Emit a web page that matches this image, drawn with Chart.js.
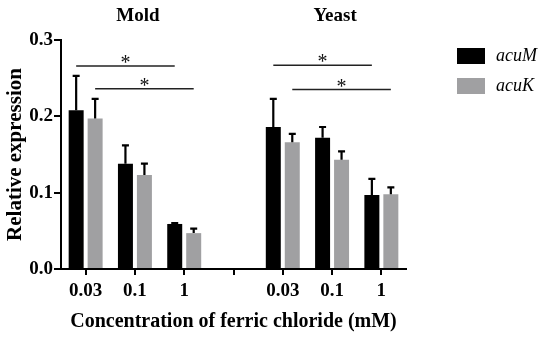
<!DOCTYPE html>
<html>
<head>
<meta charset="utf-8">
<script src="https://cdn.jsdelivr.net/npm/chart.js@4.4.1/dist/chart.umd.min.js"></script>
<style>
  html, body { margin: 0; padding: 0; background: #fff; }
  #wrap { width: 550px; height: 337px; }
</style>
</head>
<body>
<div id="wrap"><canvas id="chart"></canvas></div>
<script>
// data
const categories = ['0.03', '0.1', '1', '', '0.03', '0.1', '1'];
const acuM = [0.208, 0.138, 0.059, null, 0.186, 0.172, 0.097];
const acuK = [0.197, 0.123, 0.047, null, 0.166, 0.143, 0.098];
const acuMErr = [0.045, 0.024, 0.001, null, 0.037, 0.014, 0.021];
const acuKErr = [0.026, 0.015, 0.006, null, 0.011, 0.011, 0.009];
const yTicks = [0, 0.1, 0.2, 0.3];
const groupNames = ['Mold', 'Yeast'];
const groupCenters = [1, 5]; // category index under each group title
// significance bars: from / to category, series, height
const sigFrom = [0, 0, 4, 4];
const sigTo = [2, 2, 6, 6];
const sigSeries = [0, 1, 0, 1];
const sigY = [0.266, 0.236, 0.267, 0.235];

const serif = '"Liberation Serif", "Times New Roman", serif';
const errors = [acuMErr, acuKErr];

const errorBars = {
  id: 'errorBars',
  afterDatasetsDraw(chart) {
    const ctx = chart.ctx;
    const y = chart.scales.y;
    ctx.save();
    ctx.strokeStyle = '#000';
    ctx.lineWidth = 2.2;
    chart.data.datasets.forEach((ds, d) => {
      const meta = chart.getDatasetMeta(d);
      meta.data.forEach((bar, i) => {
        const v = ds.data[i];
        if (v == null || errors[d][i] == null) return;
        const top = y.getPixelForValue(v + errors[d][i]);
        ctx.beginPath();
        ctx.moveTo(bar.x, bar.y);
        ctx.lineTo(bar.x, top);
        ctx.moveTo(bar.x - 3.5, top);
        ctx.lineTo(bar.x + 3.5, top);
        ctx.stroke();
      });
    });
    ctx.restore();
  }
};

const extras = {
  id: 'extras',
  afterDraw(chart) {
    const ctx = chart.ctx;
    const x = chart.scales.x;
    const y = chart.scales.y;
    ctx.save();

    // significance lines with asterisks
    ctx.strokeStyle = '#222';
    ctx.lineWidth = 1.5;
    ctx.fillStyle = '#111';
    ctx.font = '20px ' + serif;
    ctx.textAlign = 'center';
    ctx.textBaseline = 'alphabetic';
    for (let k = 0; k < sigY.length; k++) {
      const meta = chart.getDatasetMeta(sigSeries[k]);
      const x1 = meta.data[sigFrom[k]].x;
      const x2 = meta.data[sigTo[k]].x;
      const py = y.getPixelForValue(sigY[k]);
      ctx.beginPath();
      ctx.moveTo(x1, py);
      ctx.lineTo(x2, py);
      ctx.stroke();
      ctx.fillText('*', (x1 + x2) / 2, py + 3);
    }

    // group titles
    ctx.fillStyle = '#000';
    ctx.font = 'bold 19px ' + serif;
    ctx.textBaseline = 'middle';
    groupNames.forEach((name, g) => {
      ctx.fillText(name, x.getPixelForValue(groupCenters[g]) + 3, 16);
    });

    // legend
    ctx.textAlign = 'left';
    ctx.font = 'italic 18px ' + serif;
    chart.data.datasets.forEach((ds, d) => {
      const top = 48 + d * 30;
      ctx.fillStyle = ds.backgroundColor;
      ctx.fillRect(457, top, 28, 16);
      ctx.fillStyle = '#000';
      ctx.fillText(ds.label, 496, top + 8);
    });
    ctx.restore();
  }
};

new Chart(document.getElementById('chart'), {
  type: 'bar',
  data: {
    labels: categories,
    datasets: [
      { label: 'acuM', data: acuM, backgroundColor: '#000000' },
      { label: 'acuK', data: acuK, backgroundColor: '#a0a0a2' }
    ]
  },
  options: {
    responsive: true,
    maintainAspectRatio: false,
    animation: false,
    categoryPercentage: 0.77,
    barPercentage: 0.79,
    layout: { padding: { left: 0, right: 144, top: 40, bottom: 0 } },
    plugins: {
      legend: { display: false },
      tooltip: { enabled: false }
    },
    scales: {
      x: {
        afterFit: s => { s.height = 68; },
        grid: {
          offset: false,
          drawOnChartArea: false,
          drawTicks: true,
          tickLength: 6,
          color: '#000',
          lineWidth: 2
        },
        border: { color: '#000', width: 2 },
        ticks: {
          color: '#000',
          padding: 5,
          font: { family: serif, size: 19, weight: 'bold' }
        },
        title: {
          display: true,
          text: 'Concentration of ferric chloride (mM)',
          color: '#000',
          font: { family: serif, size: 20, weight: 'bold' },
          padding: { top: 0, bottom: 3 }
        }
      },
      y: {
        min: 0,
        max: 0.3,
        afterFit: s => { s.width = 61; },
        afterBuildTicks: s => { s.ticks = yTicks.map(v => ({ value: v })); },
        grid: {
          drawOnChartArea: false,
          drawTicks: true,
          tickLength: 7,
          color: '#000',
          lineWidth: 2
        },
        border: { color: '#000', width: 2 },
        ticks: {
          color: '#000',
          padding: 1,
          callback: v => v.toFixed(1),
          font: { family: serif, size: 19, weight: 'bold' }
        },
        title: {
          display: true,
          text: 'Relative expression',
          color: '#000',
          font: { family: serif, size: 21, weight: 'bold' },
          padding: { top: 3, bottom: 0 }
        }
      }
    }
  },
  plugins: [errorBars, extras]
});
</script>
</body>
</html>
